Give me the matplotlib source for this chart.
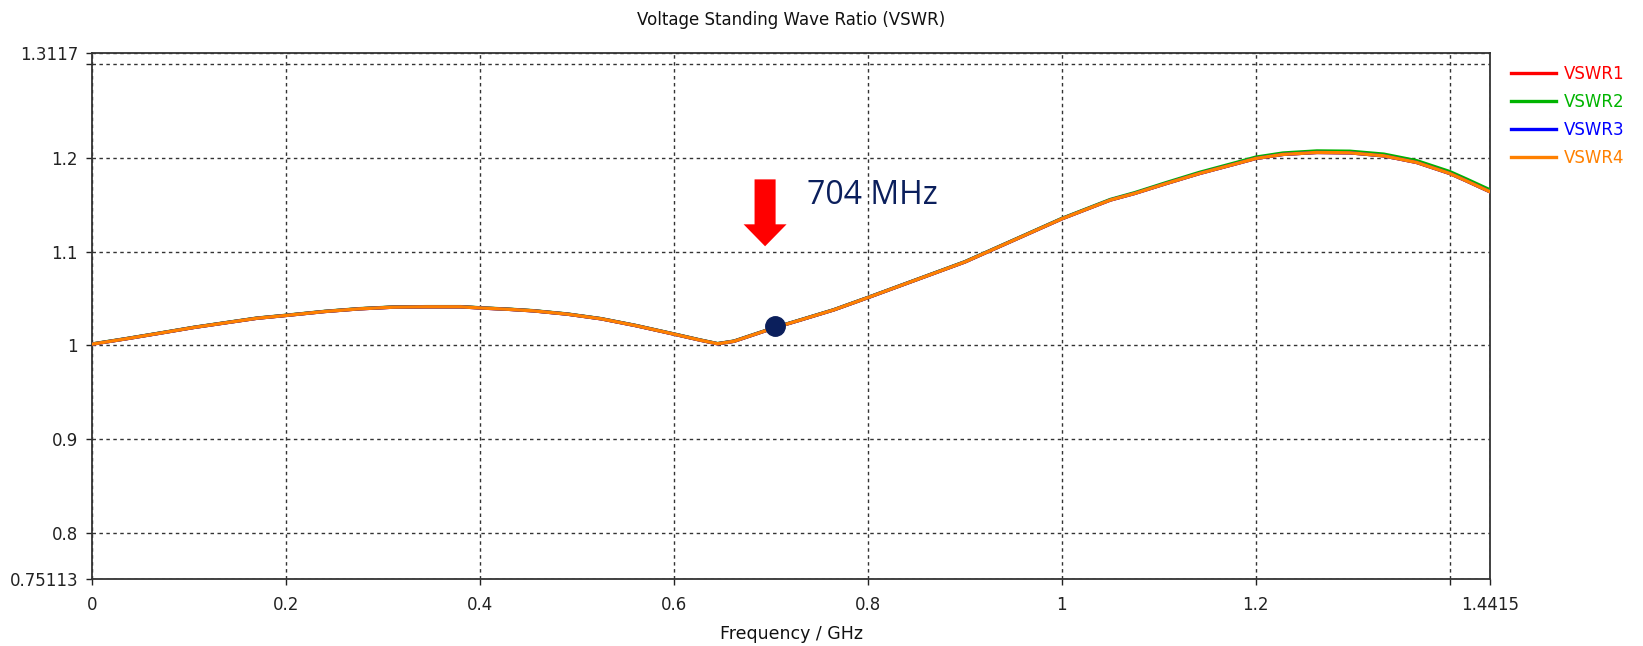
import numpy as np
import matplotlib.pyplot as plt
from matplotlib.patches import FancyArrow

# frequency samples (GHz) and VSWR per port
freq = [0.0, 0.035, 0.07, 0.105, 0.14, 0.17, 0.2, 0.24, 0.275, 0.31,
        0.345, 0.38, 0.4, 0.43, 0.455, 0.49, 0.525, 0.56, 0.6, 0.627,
        0.645, 0.662, 0.704, 0.73, 0.765, 0.8, 0.85, 0.9, 0.95, 1.0,
        1.05, 1.075, 1.108, 1.142, 1.177, 1.2, 1.228, 1.263, 1.297, 1.332,
        1.366, 1.4, 1.418, 1.4415]
vswr1 = [1.0014, 1.0071, 1.0131, 1.0192, 1.0245, 1.029, 1.032, 1.0362, 1.039, 1.0408,
         1.0412, 1.0412, 1.040, 1.0385, 1.0369, 1.0334, 1.0284, 1.0213, 1.0121, 1.0057,
         1.0018, 1.0045, 1.019, 1.027, 1.038, 1.051, 1.070, 1.089, 1.112, 1.135,
         1.155, 1.162, 1.1727, 1.1833, 1.1929, 1.1993, 1.2036, 1.2057, 1.2053, 1.2021,
         1.195, 1.1833, 1.175, 1.1638]
vswr2 = [1.0016, 1.0073, 1.0133, 1.0194, 1.0247, 1.0292, 1.0322, 1.0364, 1.0392, 1.041,
         1.0414, 1.0414, 1.0402, 1.0387, 1.0371, 1.0336, 1.0286, 1.0215, 1.0123, 1.0059,
         1.002, 1.0047, 1.0192, 1.0272, 1.0382, 1.0512, 1.0702, 1.0893, 1.1123, 1.1354,
         1.1556, 1.1628, 1.1737, 1.1845, 1.1942, 1.2007, 1.2051, 1.2073, 1.207, 1.2039,
         1.1969, 1.1853, 1.177, 1.1658]
vswr3 = [1.0014, 1.0071, 1.0131, 1.0192, 1.0245, 1.029, 1.032, 1.0362, 1.039, 1.0408,
         1.0412, 1.0412, 1.040, 1.0385, 1.0369, 1.0334, 1.0284, 1.0213, 1.0121, 1.0057,
         1.0018, 1.0045, 1.019, 1.027, 1.038, 1.051, 1.070, 1.089, 1.112, 1.135,
         1.155, 1.162, 1.1727, 1.1833, 1.1929, 1.1993, 1.2036, 1.2057, 1.2053, 1.2021,
         1.195, 1.1833, 1.175, 1.1638]
vswr4 = [1.0014, 1.0071, 1.0131, 1.0192, 1.0245, 1.029, 1.032, 1.0362, 1.039, 1.0408,
         1.0412, 1.0412, 1.040, 1.0385, 1.0369, 1.0334, 1.0284, 1.0213, 1.0121, 1.0057,
         1.0018, 1.0045, 1.019, 1.027, 1.038, 1.051, 1.070, 1.089, 1.112, 1.135,
         1.155, 1.162, 1.1727, 1.1833, 1.1929, 1.1993, 1.2036, 1.2057, 1.2053, 1.2021,
         1.195, 1.1833, 1.175, 1.1638]

series_names = ["VSWR1", "VSWR2", "VSWR3", "VSWR4"]
series_colors = ["#ff0000", "#00b400", "#0000ff", "#ff8000"]

x_ticks = [0, 0.2, 0.4, 0.6, 0.8, 1.0, 1.2, 1.4, 1.4415]
x_labels = ["0", "0.2", "0.4", "0.6", "0.8", "1", "1.2", "", "1.4415"]
y_ticks = [0.75113, 0.8, 0.9, 1.0, 1.1, 1.2, 1.3, 1.3117]
y_labels = ["0.75113", "0.8", "0.9", "1", "1.1", "1.2", "", "1.3117"]

marker_freq = 0.704
marker_vswr = 1.021
marker_text = "704 MHz"

plt.rcParams["font.family"] = ["DejaVu Sans"]

fig = plt.figure(figsize=(16.43, 6.46), dpi=100)
ax = fig.add_axes([0.056, 0.1037, 0.8509, 0.8143])

for vals, name, col in zip([vswr1, vswr2, vswr3, vswr4], series_names, series_colors):
    ax.plot(freq, vals, color=col, lw=2.4, label=name, zorder=3)

ax.set_xlim(0, 1.4415)
ax.set_ylim(0.75113, 1.3117)
ax.set_xticks(x_ticks)
ax.set_xticklabels(x_labels)
ax.set_yticks(y_ticks)
ax.set_yticklabels(y_labels)
ax.tick_params(direction="out", length=4, width=1, colors="#222222",
               labelsize=12, pad=6)
ax.tick_params(axis="x", pad=8)

ax.grid(True, color="#333333", ls=(0, (2.5, 2.5)), lw=1.0)
for s in ax.spines.values():
    s.set_color("#333333")
    s.set_linewidth(1.3)

ax.set_title("Voltage Standing Wave Ratio (VSWR)", fontsize=12, pad=20,
             color="#111111")
ax.set_xlabel("Frequency / GHz", fontsize=12.5, labelpad=8, color="#111111")

leg = ax.legend(loc="upper left", bbox_to_anchor=(1.007, 1.0), frameon=False,
                fontsize=12, handlelength=2.7, handletextpad=0.45,
                labelspacing=0.6, borderaxespad=0.3)
for txt, col in zip(leg.get_texts(), series_colors):
    txt.set_color(col)

# marker annotation
ax.plot([marker_freq], [marker_vswr], "o", color="#0b1f5c", ms=14, zorder=5)
ax.add_patch(FancyArrow(0.694, 1.177, 0, -0.0713, width=0.0217,
                        head_width=0.0443, head_length=0.0234,
                        length_includes_head=True, color="#ff0000",
                        lw=0, zorder=4))
ax.text(0.737, 1.151, marker_text, fontsize=23, color="#0b1f5c",
        family=["Open Sans", "DejaVu Sans"], va="baseline", zorder=5)

fig.savefig("out.png", dpi=100)
